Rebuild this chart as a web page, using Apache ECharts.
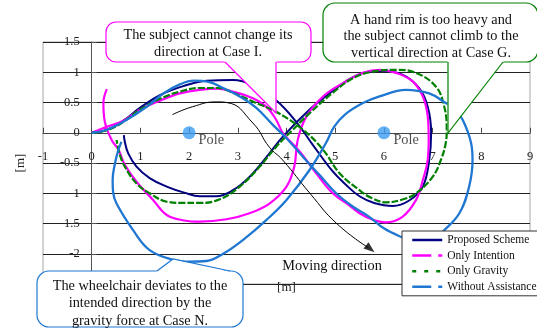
<!DOCTYPE html>
<html>
<head>
<meta charset="utf-8">
<script src="https://cdn.jsdelivr.net/npm/echarts@6/dist/echarts.min.js"></script>
<style>
html,body{margin:0;padding:0;background:#fff;}
#main{width:537px;height:331px;}
</style>
</head>
<body>
<div id="main"></div>
<script>
// trajectories [m]
var propX = [0, 0.31, 0.65, 0.99, 1.4, 1.88, 2.36, 2.9, 3.3, 3.78, 4.2, 4.54, 4.95, 5.22, 5.5, 5.8, 6.18, 6.52, 6.8, 6.93, 6.97, 6.9, 6.72, 6.38, 5.91, 5.57, 5.22, 4.88, 4.47, 3.93, 3.65, 3.24, 2.9, 2.56, 2.22, 1.9, 1.54, 1.19, 0.92, 0.75, 0.68, 0.66];
var propY = [0, 0.05, 0.2, 0.41, 0.62, 0.77, 0.86, 0.87, 0.79, 0.54, 0.18, -0.2, -0.64, -0.86, -1.05, -1.16, -1.21, -1.12, -0.89, -0.45, 0, 0.43, 0.74, 0.96, 1.02, 0.99, 0.85, 0.65, 0.38, -0.06, -0.34, -0.73, -0.95, -1.05, -1.05, -0.99, -0.89, -0.75, -0.56, -0.34, -0.15, -0.04];

var intX = [0, 0.31, 0.65, 0.99, 1.4, 1.81, 2.22, 2.56, 2.9, 3.31, 3.6, 3.79, 3.93, 4.27, 4.61, 4.95, 5.29, 5.5, 5.75, 6.04, 6.38, 6.66, 6.8, 6.9, 6.92, 6.9, 6.8, 6.59, 6.25, 5.91, 5.57, 5.16, 4.75, 4.41, 4.23, 4.16, 4.0, 3.65, 3.24, 2.77, 2.22, 1.9, 1.54, 1.26, 0.92, 0.68, 0.55, 0.41, 0.27, 0.24, 0.31];
var intY = [0, 0.1, 0.2, 0.38, 0.53, 0.65, 0.71, 0.73, 0.68, 0.57, 0.42, 0.21, -0.01, -0.31, -0.67, -1.0, -1.2, -1.33, -1.43, -1.48, -1.39, -1.11, -0.78, -0.45, -0.1, 0.27, 0.6, 0.85, 0.99, 1.04, 0.99, 0.82, 0.6, 0.27, -0.12, -0.56, -0.89, -1.17, -1.33, -1.43, -1.47, -1.45, -1.36, -1.11, -0.81, -0.53, -0.28, -0.12, 0.18, 0.49, 0.72];

var gravX = [0, 0.31, 0.65, 0.99, 1.4, 1.81, 2.22, 2.6, 2.9, 3.38, 3.78, 4.34, 4.75, 5.09, 5.5, 5.75, 6.04, 6.4, 6.66, 7.0, 7.17, 7.27, 7.29, 7.24, 7.07, 6.66, 6.25, 5.77, 5.36, 4.95, 4.47, 4.13, 3.79, 3.45, 3.04, 2.63, 2.22, 1.9, 1.54, 1.19, 0.92, 0.68, 0.58, 0.51];
var gravY = [0, 0.04, 0.18, 0.38, 0.56, 0.68, 0.74, 0.74, 0.66, 0.49, 0.35, 0.05, -0.28, -0.67, -0.95, -1.08, -1.15, -1.1, -1.0, -0.73, -0.45, -0.17, 0.05, 0.43, 0.76, 0.99, 1.04, 1.01, 0.9, 0.66, 0.32, 0.05, -0.23, -0.56, -0.89, -1.1, -1.16, -1.16, -1.14, -1.0, -0.84, -0.56, -0.37, -0.12];

var withX = [0, 0.31, 0.65, 1.13, 1.47, 1.81, 2.1, 2.4, 2.7, 3.04, 3.38, 3.72, 4.0, 4.34, 4.68, 5.02, 5.36, 5.7, 6.0, 6.32, 6.7, 7.0, 7.2, 7.55, 7.75, 7.82, 7.79, 7.62, 7.45, 7.27, 6.93, 6.45, 5.91, 5.57, 5.2, 4.98, 4.81, 4.47, 4.0, 3.59, 3.11, 2.7, 2.36, 2.0, 1.67, 1.19, 0.85, 0.51, 0.44, 0.43, 0.48, 0.55, 0.61];
var withY = [0, 0.05, 0.18, 0.43, 0.65, 0.8, 0.86, 0.84, 0.74, 0.6, 0.41, 0.13, -0.09, -0.4, -0.7, -1.0, -1.22, -1.39, -1.58, -1.71, -1.82, -1.78, -1.64, -1.33, -0.89, -0.45, -0.17, 0.21, 0.4, 0.49, 0.65, 0.71, 0.6, 0.49, 0.3, 0.1, -0.17, -0.62, -1.11, -1.44, -1.77, -2.0, -2.12, -2.13, -2.1, -1.94, -1.61, -1.17, -0.98, -0.78, -0.5, -0.28, -0.15];

// moving direction arrow + poles
var moveX = [1.66, 2.07, 2.57, 2.77, 3.31, 3.65, 3.92, 4.48, 5.03, 5.68];
var moveY = [0.30, 0.43, 0.51, 0.50, 0.16, -0.24, -0.45, -1.0, -1.5, -1.9];
var arrowTip = [5.72, -1.92];
var poleX = [2, 6];
var poleY = [0, 0];

var names = ['Proposed Scheme', 'Only Intention', 'Only Gravity', 'Without Assistance'];
var colors = ['#000080', '#ff00ff', '#008000', '#1f77d2'];

function pairs(xs, ys){
	var out = [];
	for (var i = 0; i < xs.length; i++) out.push([xs[i], ys[i]]);
	return out;
}

var serif = '"Liberation Serif", "Times New Roman", serif';
var noSym = {color: 'rgba(0,0,0,0)', borderWidth: 0};

function traj(i, xs, ys, width, dash){
	return {
		name: names[i], type: 'line', data: pairs(xs, ys),
		smooth: 0.4, symbol: 'none', showSymbol: false,
		lineStyle: {color: colors[i], width: width, type: dash || 'solid'},
		itemStyle: {color: colors[i]},
		z: 3 + i
	};
}

var chart = echarts.init(document.getElementById('main'));
var option = {
	animation: false,
	backgroundColor: '#fff',
	grid: {left: 43, right: 7, top: 42, bottom: 47, show: true, borderColor: '#a6a6a6', borderWidth: 1, outerBoundsMode: 'none'},
	xAxis: {
		type: 'value', min: -1, max: 9, interval: 1, offset: -151.2,
		name: '[m]', nameLocation: 'middle', nameGap: 148, nameMoveOverlap: false,
		nameTextStyle: {fontFamily: serif, fontSize: 13, color: '#222'},
		axisLine: {onZero: false, lineStyle: {color: '#444', width: 1}},
		axisTick: {inside: true, length: 5, lineStyle: {color: '#444'}},
		axisLabel: {margin: 17, fontFamily: serif, fontSize: 12.5, color: '#222'},
		splitLine: {show: false}
	},
	yAxis: {
		type: 'value', min: -2.5, max: 1.5, interval: 0.5, offset: -48.7,
		name: '[m]', nameLocation: 'middle', nameGap: 65, nameMoveOverlap: false,
		nameTextStyle: {fontFamily: serif, fontSize: 13, color: '#222'},
		axisLine: {show: true, onZero: false, lineStyle: {color: '#555', width: 1}},
		axisTick: {show: true, inside: true, length: 5, lineStyle: {color: '#555'}},
		axisLabel: {margin: 12, fontFamily: serif, fontSize: 12.5, color: '#222'},
		splitLine: {show: true, lineStyle: {color: '#222', width: 1}}
	},
	legend: {
		orient: 'vertical', left: 402, top: 231,
		backgroundColor: '#fff', borderColor: '#333', borderWidth: 1,
		padding: [3, 2, 3, 9], itemWidth: 30, itemHeight: 12, itemGap: 3.6,
		selectedMode: false, z: 50,
		textStyle: {fontFamily: serif, fontSize: 11.5, color: '#111'},
		data: [
			{name: names[0], itemStyle: noSym, lineStyle: {width: 2.5, type: 'solid'}},
			{name: names[1], itemStyle: noSym, lineStyle: {width: 2.5, type: [19, 7]}},
			{name: names[2], itemStyle: noSym, lineStyle: {width: 2.5, type: [4, 8]}},
			{name: names[3], itemStyle: noSym, lineStyle: {width: 2.5, type: [19, 7]}}
		]
	},
	series: [
		traj(0, propX, propY, 2),
		traj(1, intX, intY, 2.2),
		traj(2, gravX, gravY, 2.2, [7, 2]),
		traj(3, withX, withY, 2.3),
		{
			name: 'moving', type: 'line', data: pairs(moveX, moveY), smooth: 0.5,
			symbol: 'none', silent: true, lineStyle: {color: '#000', width: 1}, z: 8
		},
		{
			name: 'arrow', type: 'scatter', data: [arrowTip], symbol: 'triangle',
			symbolSize: [8, 11], symbolRotate: -129, itemStyle: {color: '#000'}, silent: true, z: 8
		},
		{
			name: 'Pole', type: 'scatter', data: pairs(poleX, poleY), symbolSize: 13,
			itemStyle: {color: '#3c9cf2'}, silent: true, z: 9,
			label: {show: true, formatter: 'Pole', position: 'right', distance: 3, offset: [0, 7],
				fontFamily: serif, fontSize: 14.3, color: '#222'}
		}
	],
	graphic: [
		// magenta callout
		{type: 'rect', z: 100, shape: {x: 106, y: 22, width: 205, height: 40, r: 10}, style: {fill: '#fff', stroke: '#ff00ff', lineWidth: 1.2}},
		{type: 'polygon', z: 100, shape: {points: [[224, 61], [276.5, 61], [276.5, 113]]}, style: {fill: '#fff'}},
		{type: 'polyline', z: 100, shape: {points: [[225, 62], [276, 113], [276, 62]]}, style: {stroke: '#ff00ff', lineWidth: 1.2, fill: null}},
		{type: 'text', z: 101, style: {text: 'The subject cannot change its\ndirection at Case I.', x: 208, y: 43.5, align: 'center', verticalAlign: 'middle', font: '14.3px ' + serif, fill: '#111', lineHeight: 17}},
		// green callout
		{type: 'rect', z: 100, shape: {x: 323, y: 3, width: 215, height: 59, r: 12}, style: {fill: '#fff', stroke: '#008000', lineWidth: 1.2}},
		{type: 'polygon', z: 100, shape: {points: [[447.5, 61], [504, 61], [447.5, 133]]}, style: {fill: '#fff'}},
		{type: 'polyline', z: 100, shape: {points: [[448, 62], [448, 133], [503, 62]]}, style: {stroke: '#008000', lineWidth: 1.2, fill: null}},
		{type: 'text', z: 101, style: {text: 'A hand rim is too heavy and\nthe subject cannot climb to the\nvertical direction at Case G.', x: 431, y: 36.5, align: 'center', verticalAlign: 'middle', font: '14.3px ' + serif, fill: '#111', lineHeight: 16.5}},
		// blue callout
		{type: 'rect', z: 100, shape: {x: 37, y: 271, width: 206, height: 56, r: 12}, style: {fill: '#fff', stroke: '#1f77d2', lineWidth: 1.2}},
		{type: 'polygon', z: 100, shape: {points: [[156, 272], [231, 272], [173, 259]]}, style: {fill: '#fff'}},
		{type: 'polyline', z: 100, shape: {points: [[157, 271], [173, 259], [230, 271]]}, style: {stroke: '#1f77d2', lineWidth: 1.2, fill: null}},
		{type: 'text', z: 101, style: {text: 'The wheelchair deviates to the\nintended direction by the\ngravity force at Case N.', x: 140, y: 303.5, align: 'center', verticalAlign: 'middle', font: '14.3px ' + serif, fill: '#111', lineHeight: 17.3}},
		// moving direction label
		{type: 'text', z: 60, style: {text: 'Moving direction', x: 332, y: 266, align: 'center', verticalAlign: 'middle', font: '14.3px ' + serif, fill: '#111'}}
	]
};
chart.setOption(option);
</script>
</body>
</html>
